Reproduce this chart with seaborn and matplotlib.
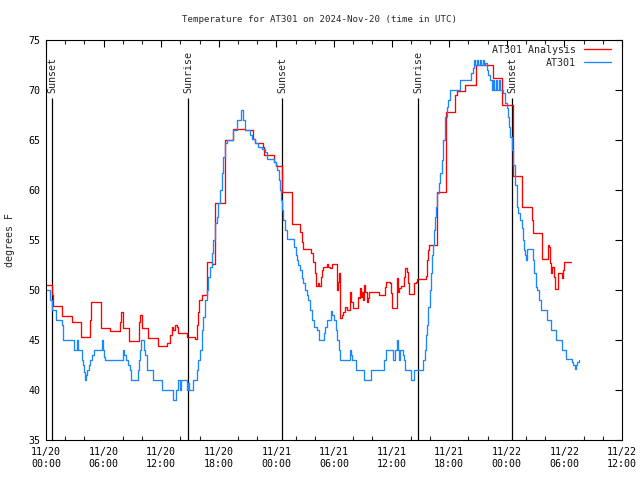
import numpy as np
import pandas as pd
import matplotlib
matplotlib.use("Agg")
import matplotlib.pyplot as plt
import matplotlib.dates as mdates
import seaborn as sns

# Hours since 2024-11-20 00:00 UTC, temperatures in degrees F
obs_hours = [0.00, 0.42, 0.63, 1.04, 1.67, 1.77, 2.92, 3.28, 3.33, 3.75, 3.85, 3.96, 4.06, 4.17, 4.27,
             4.48, 4.58, 4.79, 5.00, 5.83, 5.94, 6.04, 6.15, 8.02, 8.13, 8.33, 8.54, 8.75, 8.85, 9.58,
             9.69, 9.79, 9.90, 10.21, 10.31, 10.52, 11.15, 12.08, 13.23, 13.54, 13.75, 13.96, 14.06,
             14.69, 14.79, 14.90, 15.31, 15.73, 15.83, 16.04, 16.25, 16.35, 16.56, 16.77, 16.88, 17.08,
             17.29, 17.40, 17.60, 17.81, 17.92, 18.13, 18.33, 18.44, 18.65, 18.85, 19.48, 19.90, 20.31,
             20.52, 20.73, 21.25, 21.46, 21.77, 22.08, 22.50, 22.81, 23.02, 23.75, 23.96, 24.06, 24.27,
             24.38, 24.48, 24.58, 24.69, 24.90, 25.10, 25.83, 26.04, 26.15, 26.25, 26.46, 26.67, 26.77,
             26.98, 27.19, 27.29, 27.50, 27.71, 27.92, 28.23, 28.44, 28.96, 29.06, 29.27, 29.69, 29.79,
             30.00, 30.21, 30.31, 30.52, 30.63, 31.67, 31.77, 31.88, 32.29, 33.13, 33.85, 35.21, 35.42,
             36.15, 36.35, 36.56, 36.67, 36.77, 36.88, 37.19, 37.29, 37.40, 38.02, 38.33, 39.27, 39.48,
             39.58, 39.69, 39.79, 40.00, 40.10, 40.21, 40.31, 40.42, 40.52, 40.63, 40.73, 40.94, 41.04,
             41.25, 41.35, 41.56, 41.77, 41.88, 42.08, 43.13, 44.27, 44.48, 44.58, 44.65, 44.90, 44.96,
             45.21, 45.27, 45.52, 45.58, 45.73, 45.94, 46.04, 46.25, 46.46, 46.56, 46.63, 46.88, 46.94,
             47.19, 47.25, 47.60, 47.81, 48.02, 48.13, 48.23, 48.33, 48.54, 48.65,
             48.85, 49.06, 49.17, 49.38, 49.58, 49.69, 49.79, 49.90, 50.00, 50.10, 50.73, 50.83, 51.04,
             51.15, 51.35, 51.56, 52.19, 52.60, 53.13, 53.75, 54.17, 54.79, 54.90, 55.10, 55.21, 55.31,
             55.52]
obs_temps = [50.0, 49.0, 48.0, 47.0, 46.5, 45.0, 44.0, 45.0, 44.0, 43.0, 42.5, 41.8, 41.0, 41.5, 42.0,
             42.5, 43.0, 43.5, 44.0, 45.0, 44.0, 43.3, 43.0, 44.0, 43.5, 43.0, 42.5, 42.0, 41.0, 42.0,
             43.0, 44.0, 45.0, 44.0, 43.5, 42.0, 41.0, 40.0, 39.0, 40.0, 41.0, 40.0, 41.0,
             40.0, 40.7, 40.0, 41.0, 42.0, 43.0, 44.0, 46.0, 47.3, 49.0, 50.0, 51.3, 52.3,
             53.7, 55.0, 56.7, 57.3, 58.7, 60.0, 61.7, 63.3, 64.7, 65.0, 66.0, 67.0, 68.0,
             67.0, 66.0, 65.5, 65.1, 64.7, 64.3, 64.1, 63.8, 63.1, 62.8, 62.5, 62.0, 61.0,
             60.0, 59.0, 58.0, 57.0, 56.0, 55.1, 54.3, 53.5, 53.0, 52.5, 52.0, 51.2, 50.7,
             50.0, 49.5, 49.0, 48.0, 47.0, 46.3, 46.0, 45.0, 45.7, 46.3, 47.0, 47.9, 47.5,
             47.0, 46.0, 45.0, 44.0, 43.0, 44.0, 43.5, 43.0, 42.0, 41.0, 42.0, 43.0, 44.0,
             43.0, 44.0, 45.0, 44.0, 43.0, 44.0, 43.5, 43.0, 42.0, 41.0, 42.0, 43.0, 44.0,
             45.5, 46.5, 48.3, 50.0, 51.7, 53.5, 54.5, 56.0, 57.3, 58.3, 59.7, 60.7, 61.7,
             63.0, 65.0, 67.3, 68.3, 69.0, 70.0, 71.0, 71.7, 72.2, 73.0, 72.5, 73.0, 72.5,
             73.0, 72.5, 73.0, 72.5, 72.7, 72.0, 71.5, 71.0, 70.0, 71.0, 70.0, 71.0, 70.0,
             71.0, 70.0, 69.7, 68.7, 68.2, 67.3, 66.3, 65.3, 64.0, 62.5,
             60.5, 58.3, 57.7, 57.0, 56.2, 55.0, 54.0, 53.5, 53.0, 54.1, 53.0, 51.7, 50.3,
             50.0, 49.0, 48.0, 47.0, 46.0, 45.0, 44.0, 43.1, 42.8, 42.5, 42.1, 42.5, 42.8,
             43.0]

ana_hours = [0.00, 0.63, 0.73, 1.67, 2.71, 3.65, 4.58, 4.69, 5.73, 6.67, 7.71, 7.81, 7.97, 8.02, 8.65,
             9.69, 9.79, 9.95, 10.00, 10.63, 11.67, 12.60, 12.92, 13.13, 13.28, 13.44, 13.65, 13.75,
             14.69, 15.52, 15.73, 15.83, 15.94, 16.25, 16.77, 17.29, 17.60, 18.65, 19.48, 20.73, 21.56,
             21.77, 22.60, 22.71, 23.75, 23.96, 24.58, 25.63, 26.46, 26.67, 26.77, 27.60, 27.81, 28.02,
             28.13, 28.33, 28.44, 28.65, 28.75, 28.85, 29.27, 29.38, 29.58, 29.79, 30.31, 30.42, 30.52,
             30.63, 30.83, 30.94, 31.15, 31.35, 31.67, 31.77, 32.00, 32.50, 32.60, 32.71, 32.81, 32.92,
             33.02, 33.13, 33.23, 33.44, 33.54, 33.65, 34.69, 35.31, 35.42, 35.83, 35.94, 36.04, 36.56,
             36.67, 36.77, 36.98, 37.29, 37.40, 37.60, 37.71, 37.81, 38.33, 38.54, 38.65, 39.58, 39.69,
             39.79, 39.90, 40.73, 41.67, 42.60, 42.81, 43.65, 44.79, 46.56, 47.50, 48.65, 49.58, 50.63,
             50.73, 51.67, 52.29, 52.40, 52.50, 52.60, 52.71, 52.92, 53.02, 53.33, 53.75, 53.85, 53.96,
             54.69]
ana_temps = [50.5, 49.5, 48.4, 47.4, 46.8, 45.3, 47.0, 48.8, 46.2, 45.9, 46.8, 47.8, 46.8, 46.2, 44.9,
             46.8, 47.5, 46.8, 46.2, 45.2, 44.4, 44.7, 45.5, 46.3, 46.0, 46.5, 46.3, 45.7,
             45.3, 45.1, 46.5, 47.8, 49.0, 49.5, 52.8, 52.6, 58.7, 65.0, 66.1, 66.0, 65.1,
             64.7, 64.3, 63.5, 62.8, 62.4, 59.8, 56.6, 55.8, 54.8, 54.1, 53.7, 52.8, 51.7,
             50.4, 50.7, 50.4, 51.3, 52.0, 52.3, 52.6, 52.3, 52.2, 52.6, 50.0, 50.8, 51.7,
             47.2, 47.5, 47.8, 48.3, 48.0, 49.8, 48.8, 48.2, 49.3, 49.2, 50.2, 49.3, 49.8,
             49.0, 50.5, 49.8, 48.8, 49.2, 49.8, 49.5, 50.3, 50.8, 50.7, 49.7, 48.2, 51.2,
             49.8, 50.2, 50.4, 51.3, 52.2, 51.8, 50.7, 49.6, 50.7, 50.8, 51.1, 51.4, 53.0,
             54.0, 54.5, 59.8, 67.8, 69.5, 69.9, 70.5, 72.5, 71.2, 68.5, 61.4, 58.3, 57.0,
             55.7, 53.1, 54.5, 54.3, 52.7, 51.7, 52.3, 51.3, 50.1, 51.7, 51.2, 52.0, 52.8,
             52.8]

sun_labels = ["Sunset", "Sunrise", "Sunset", "Sunrise", "Sunset"]
sun_times = ["2024-11-20 00:39", "2024-11-20 14:49", "2024-11-21 00:37",
             "2024-11-21 14:47", "2024-11-22 00:34"]

start = pd.Timestamp("2024-11-20 00:00")
obs = pd.DataFrame({"time": start + pd.to_timedelta(obs_hours, unit="h"), "temp": obs_temps})
ana = pd.DataFrame({"time": start + pd.to_timedelta(ana_hours, unit="h"), "temp": ana_temps})

sns.set_theme(style="white")
plt.rcParams["font.family"] = ["DejaVu Sans Mono"]
plt.rcParams["font.size"] = 7.2

fig = plt.figure(figsize=(6.4, 4.8), dpi=100)
ax = fig.add_axes([46 / 640, 40 / 480, 576 / 640, 400 / 480])

sns.lineplot(data=ana, x="time", y="temp", ax=ax, color="#ff0000", lw=0.95,
             drawstyle="steps-post", estimator=None, label="AT301 Analysis")
sns.lineplot(data=obs, x="time", y="temp", ax=ax, color="#1a87ff", lw=0.95,
             drawstyle="steps-post", estimator=None, label="AT301")

# sunrise / sunset markers
for lab, t in zip(sun_labels, sun_times):
    t = pd.Timestamp(t)
    ax.vlines(t, 35, 69.2, color="black", lw=0.9, zorder=1)
    ax.text(t, 69.7, lab, rotation=90, ha="center", va="bottom", fontsize=7.2)

ax.set_xlim(start, pd.Timestamp("2024-11-22 12:00"))
ax.set_ylim(35, 75)
ax.set_yticks(np.arange(35, 76, 5))
ax.xaxis.set_major_locator(mdates.HourLocator(byhour=[0, 6, 12, 18]))
ax.xaxis.set_minor_locator(mdates.HourLocator(byhour=range(0, 24, 2)))
ax.xaxis.set_major_formatter(mdates.DateFormatter("%m/%d\n%H:%M"))
ax.tick_params(axis="both", which="major", direction="in", length=5, width=0.8,
               top=True, right=True, labelsize=7.2, colors="black")
ax.tick_params(axis="x", which="minor", direction="in", length=3, width=0.8, top=True, bottom=True)
ax.tick_params(axis="x", which="major", pad=5)
ax.tick_params(axis="y", which="major", pad=4)
for s in ax.spines.values():
    s.set_color("black")
    s.set_linewidth(0.8)

ax.set_xlabel("")
ax.set_ylabel("")
fig.text(10 / 640, 1 - 240 / 480, "degrees F", rotation=90, ha="center", va="center", fontsize=7.2)
fig.text(0.5, 1 - 20 / 480, "Temperature for AT301 on 2024-Nov-20 (time in UTC)",
         ha="center", va="center", fontsize=6.6)

ax.legend(loc="upper right", bbox_to_anchor=(610 / 622 + 0.0, 1 - 5 / 400), bbox_transform=ax.transAxes,
          frameon=False, markerfirst=False, handlelength=2.7, handletextpad=0.8,
          labelspacing=0.3, borderaxespad=0.0, borderpad=0.0, fontsize=7.2)

fig.savefig("out.png", dpi=100)
